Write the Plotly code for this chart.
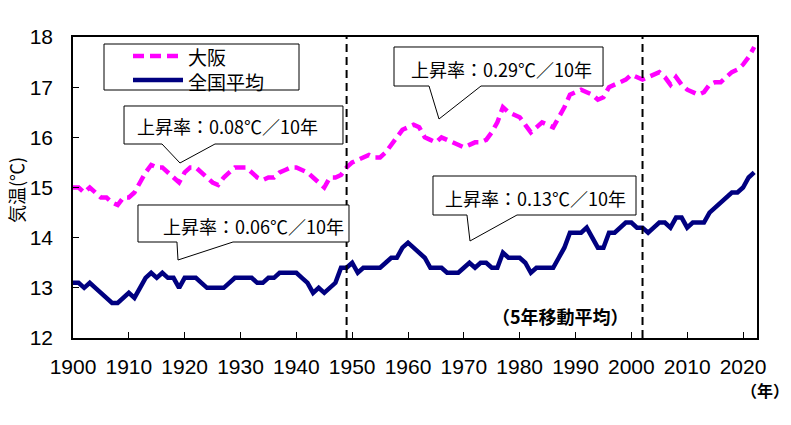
import plotly.graph_objects as go

# 5年移動平均 気温 (℃), 1900-2022
years = list(range(1900, 2023))

osaka = [
    15.0, 15.0, 14.9, 15.0, 14.9, 14.8, 14.8, 14.7, 14.65, 14.8,    # 1900-
    14.8, 14.9, 15.1, 15.3, 15.45, 15.4, 15.4, 15.3, 15.2, 15.1,    # 1910-
    15.3, 15.4, 15.4, 15.3, 15.2, 15.1, 15.05, 15.2, 15.3, 15.4,    # 1920-
    15.4, 15.4, 15.3, 15.2, 15.15, 15.2, 15.2, 15.3, 15.35, 15.4,   # 1930-
    15.4, 15.35, 15.3, 15.2, 15.1, 15.0, 15.2, 15.2, 15.25, 15.4,   # 1940-
    15.5, 15.55, 15.6, 15.65, 15.6, 15.6, 15.7, 15.85, 16.0, 16.15, # 1950-
    16.2, 16.25, 16.2, 16.0, 15.95, 15.9, 16.0, 15.95, 15.9, 15.85, # 1960-
    15.8, 15.85, 15.9, 15.9, 15.95, 16.1, 16.3, 16.6, 16.5, 16.45,  # 1970-
    16.4, 16.25, 16.1, 16.2, 16.3, 16.25, 16.2, 16.4, 16.6, 16.85,  # 1980-
    16.9, 16.95, 16.9, 16.85, 16.75, 16.8, 17.0, 17.05, 17.1, 17.15, # 1990-
    17.25, 17.2, 17.15, 17.2, 17.25, 17.3, 17.2, 17.05, 17.2, 17.05, # 2000-
    16.95, 16.9, 16.85, 16.9, 17.05, 17.1, 17.1, 17.2, 17.3, 17.35, # 2010-
    17.45, 17.6, 17.8,                                              # 2020-
]

zenkoku = [
    13.1, 13.1, 13.0, 13.1, 13.0, 12.9, 12.8, 12.7, 12.7, 12.8,    # 1900-
    12.9, 12.8, 13.0, 13.2, 13.3, 13.2, 13.3, 13.2, 13.2, 13.0,    # 1910-
    13.2, 13.2, 13.2, 13.1, 13.0, 13.0, 13.0, 13.0, 13.1, 13.2,    # 1920-
    13.2, 13.2, 13.2, 13.1, 13.1, 13.2, 13.2, 13.3, 13.3, 13.3,    # 1930-
    13.3, 13.2, 13.1, 12.9, 13.0, 12.9, 13.0, 13.1, 13.4, 13.4,    # 1940-
    13.5, 13.3, 13.4, 13.4, 13.4, 13.4, 13.5, 13.6, 13.6, 13.8,    # 1950-
    13.9, 13.8, 13.7, 13.6, 13.4, 13.4, 13.4, 13.3, 13.3, 13.3,    # 1960-
    13.4, 13.5, 13.4, 13.5, 13.5, 13.4, 13.4, 13.7, 13.6, 13.6,    # 1970-
    13.6, 13.5, 13.3, 13.4, 13.4, 13.4, 13.4, 13.6, 13.8, 14.1,    # 1980-
    14.1, 14.1, 14.2, 14.0, 13.8, 13.8, 14.1, 14.1, 14.2, 14.3,    # 1990-
    14.3, 14.2, 14.2, 14.1, 14.2, 14.3, 14.3, 14.2, 14.4, 14.4,    # 2000-
    14.2, 14.3, 14.3, 14.3, 14.5, 14.6, 14.7, 14.8, 14.9, 14.9,    # 2010-
    15.0, 15.2, 15.3,                                              # 2020-
]

period_breaks = [1949, 2002]
x_ticks = list(range(1900, 2030, 10))

# 上昇率の吹き出し
rate_labels = ['上昇率：0.08℃／10年', '上昇率：0.06℃／10年',
               '上昇率：0.29℃／10年', '上昇率：0.13℃／10年']

W, H = 791, 425
PL, PR, PT, PB = 73, 757, 37, 338
FONT = 'Liberation Sans, Noto Sans CJK JP'
JP = 'Noto Sans CJK JP, Noto Sans, sans-serif'

OSAKA_LINE = dict(color='#FF00FF', width=4.5, dash='11px,6px')
ZENKOKU_LINE = dict(color='#000080', width=4.5)


def fx(x):
    return (x - PL) / (PR - PL)


def fy(y):
    return (PB - y) / (PB - PT)


def note(x, y, text, size=18, anchor='center', angle=0):
    fig.add_annotation(x=fx(x), y=fy(y), xref='paper', yref='paper', text=text,
                       showarrow=False, xanchor=anchor, yanchor='middle', align='left',
                       textangle=angle, font=dict(family=JP, size=size, color='black'))


fig = go.Figure()
fig.add_trace(go.Scatter(x=years, y=osaka, mode='lines', name='大阪',
                         line=OSAKA_LINE, showlegend=False))
fig.add_trace(go.Scatter(x=years, y=zenkoku, mode='lines', name='全国平均',
                         line=ZENKOKU_LINE, showlegend=False))

# 期間の区切り (縦の破線)
for yr in period_breaks:
    fig.add_shape(type='line', xref='x', yref='paper', x0=yr, x1=yr, y0=0, y1=1,
                  line=dict(color='black', width=2, dash='8px,5px'))

# 凡例 (枠 + 線見本 + 文字)
fig.add_shape(type='rect', xref='paper', yref='paper', x0=fx(104), x1=fx(299),
              y0=fy(90), y1=fy(44), fillcolor='white', line=dict(color='black', width=1))
for yy, ln in [(56, OSAKA_LINE), (80, ZENKOKU_LINE)]:
    fig.add_shape(type='line', xref='paper', yref='paper', x0=fx(133), x1=fx(183),
                  y0=fy(yy), y1=fy(yy), line=ln)
note(186, 69, '大阪<br>全国平均', size=19, anchor='left')

# 吹き出し: box, 根元の x, 先端, テキスト中心
bubbles = [
    ((124, 106, 343, 144), (162, 215), (180, 163), (227, 126)),
    ((138, 205, 349, 242), (177, 233), (178, 260), (253, 226)),
    ((394, 47, 603, 86), (429, 481), (439, 119), (501, 69)),
    ((433, 176, 636, 215), (467, 517), (470, 241), (535, 198)),
]
for (box, base, tip, tc), label in zip(bubbles, rate_labels):
    x0, y0, x1, y1 = box
    pts = [(x0, y0), (x1, y0), (x1, y1), (base[1], y1), tip, (base[0], y1), (x0, y1)]
    path = 'M ' + ' L '.join(f'{fx(a):.4f},{fy(b):.4f}' for a, b in pts) + ' Z'
    fig.add_shape(type='path', xref='paper', yref='paper', path=path,
                  fillcolor='white', line=dict(color='black', width=1))
    note(tc[0], tc[1], label)

note(560, 316, '<b>（5年移動平均）</b>', size=18)
note(765, 390, '<b>（年）</b>', size=16)
note(16, 190, '気温(℃)', size=18, angle=-90)

fig.update_xaxes(
    range=[1900, 2022.5], tickvals=x_ticks, ticks='inside', ticklen=6,
    tickcolor='black', showline=True, linecolor='black', linewidth=1.5,
    mirror=True, showgrid=False, zeroline=False, ticklabelstandoff=9,
    tickfont=dict(size=21, color='black'),
)
fig.update_yaxes(
    range=[12, 18], dtick=1, ticks='inside', ticklen=6,
    tickcolor='black', showline=True, linecolor='black', linewidth=1.5,
    mirror=True, showgrid=False, zeroline=False, ticklabelstandoff=14,
    tickfont=dict(size=21, color='black'),
)
fig.update_layout(
    width=W, height=H, autosize=False,
    plot_bgcolor='white', paper_bgcolor='white',
    font=dict(family=FONT, size=20, color='black'),
    margin=dict(l=PL, r=W - PR, t=PT, b=H - PB),
    showlegend=False,
)

fig.write_html('out.html', config={'displayModeBar': False},
               post_script="document.body.style.margin='0';")
